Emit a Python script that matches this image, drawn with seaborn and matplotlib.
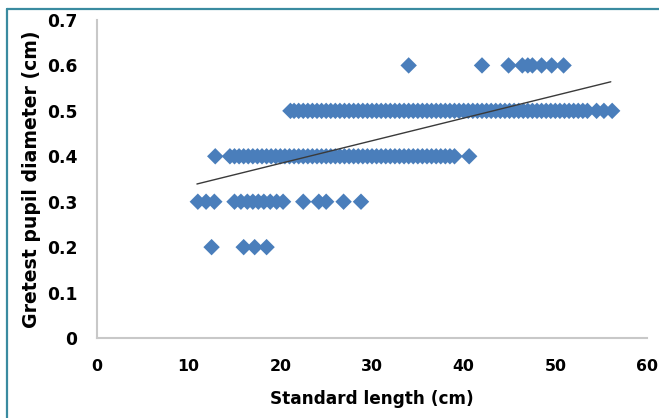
import matplotlib
matplotlib.use("Agg")
import matplotlib.pyplot as plt
import seaborn as sns
import pandas as pd
from matplotlib.lines import Line2D

# ---- data ----
row_06_x = [34, 42, 44.9, 46.4, 47, 47.5, 48.5, 49.6, 50.9]
row_05_x = [21.1, 21.5, 22, 22.5, 23, 23.5, 24, 24.5, 25, 25.5, 26, 26.5, 27, 27.5,
            28, 28.5, 29, 29.5, 30, 30.5, 31, 31.5, 32, 32.5, 33, 33.5, 34, 34.5,
            35, 35.5, 36, 36.5, 37, 37.5, 38, 38.5, 39, 39.5, 40, 40.5, 41, 41.5,
            42, 42.5, 43, 43.5, 44, 44.5, 45, 45.5, 46, 46.5, 47, 47.5, 48, 48.5,
            49, 49.5, 50, 50.5, 51, 51.5, 52, 52.5, 53, 53.5, 54.5, 55.3, 56.2]
row_04_x = [12.9, 14.5, 15, 15.5, 16, 16.5, 17, 17.5, 18, 18.5, 19, 19.5, 20, 20.5,
            21, 21.5, 22, 22.5, 23, 23.5, 24, 24.5, 25, 25.5, 26, 26.5, 27, 27.5,
            28, 28.5, 29, 29.5, 30, 30.5, 31, 31.5, 32, 32.5, 33, 33.5, 34, 34.5,
            35, 35.5, 36, 36.5, 37, 37.5, 38, 38.5, 39, 40.6]
row_03_x = [11, 11.9, 12.8, 15, 15.7, 16.4, 17, 17.6, 18.2, 18.9, 19.6, 20.3,
            22.5, 24.2, 25, 26.9, 28.8]
row_02_x = [12.5, 16.0, 17.2, 18.5]

row_values = [0.6, 0.5, 0.4, 0.3, 0.2]
trend_x = [10.9, 56.05]
trend_y = [0.339, 0.564]

x_ticks = [0, 10, 20, 30, 40, 50, 60]
y_ticks = [0, 0.1, 0.2, 0.3, 0.4, 0.5, 0.6, 0.7]
y_tick_labels = ["0", "0.1", "0.2", "0.3", "0.4", "0.5", "0.6", "0.7"]

xs, ys = [], []
for yv, row in zip(row_values, [row_06_x, row_05_x, row_04_x, row_03_x, row_02_x]):
    xs.extend(row)
    ys.extend([yv] * len(row))
df = pd.DataFrame({"length": xs, "pupil": ys})
trend_df = pd.DataFrame({"x": trend_x, "y": trend_y})

# ---- plot ----
sns.set_style("white")
plt.rcParams["font.family"] = ["DejaVu Sans"]

fig = plt.figure(figsize=(6.59, 4.18), dpi=100)
ax = fig.add_axes([97 / 659, 1 - 338 / 418, 550 / 659, 318 / 418])

sns.scatterplot(data=df, x="length", y="pupil", marker="D", s=70,
                color="#4A7EBB", edgecolor="none", linewidth=0, ax=ax, zorder=2)
sns.lineplot(data=trend_df, x="x", y="y", color="#3a3a3a", linewidth=1.0,
             ax=ax, zorder=3)

ax.set_xlim(0, 60)
ax.set_ylim(0, 0.7)
ax.set_xticks(x_ticks)
ax.set_xticklabels([str(t) for t in x_ticks])
ax.set_yticks(y_ticks)
ax.set_yticklabels(y_tick_labels)

for lbl in ax.get_xticklabels():
    lbl.set_fontweight("bold")
    lbl.set_fontsize(11.3)
    lbl.set_color("black")
for lbl in ax.get_yticklabels():
    lbl.set_fontweight("bold")
    lbl.set_fontsize(12.3)
    lbl.set_color("black")

ax.tick_params(axis="x", length=0, pad=15)
ax.tick_params(axis="y", length=0, pad=14)

ax.set_xlabel("Standard length (cm)", fontsize=12.2, fontweight="bold",
              labelpad=12, color="black")
ax.set_ylabel("Gretest pupil diameter (cm)", fontsize=13.6, fontweight="bold",
              labelpad=4, color="black")

for side in ["top", "right"]:
    ax.spines[side].set_visible(False)
for side in ["left", "bottom"]:
    ax.spines[side].set_color("#C8C8C8")
    ax.spines[side].set_linewidth(1.5)
ax.grid(False)

# outer frame (only top and left edges are visible in the crop)
fx = 7 / 659
fy = 1 - 9 / 418
fig.add_artist(Line2D([fx, fx], [0, fy], transform=fig.transFigure,
                      color="#3A8BA0", linewidth=1.6))
fig.add_artist(Line2D([fx, 1], [fy, fy], transform=fig.transFigure,
                      color="#3A8BA0", linewidth=1.6))

fig.savefig("out.png", dpi=100)
